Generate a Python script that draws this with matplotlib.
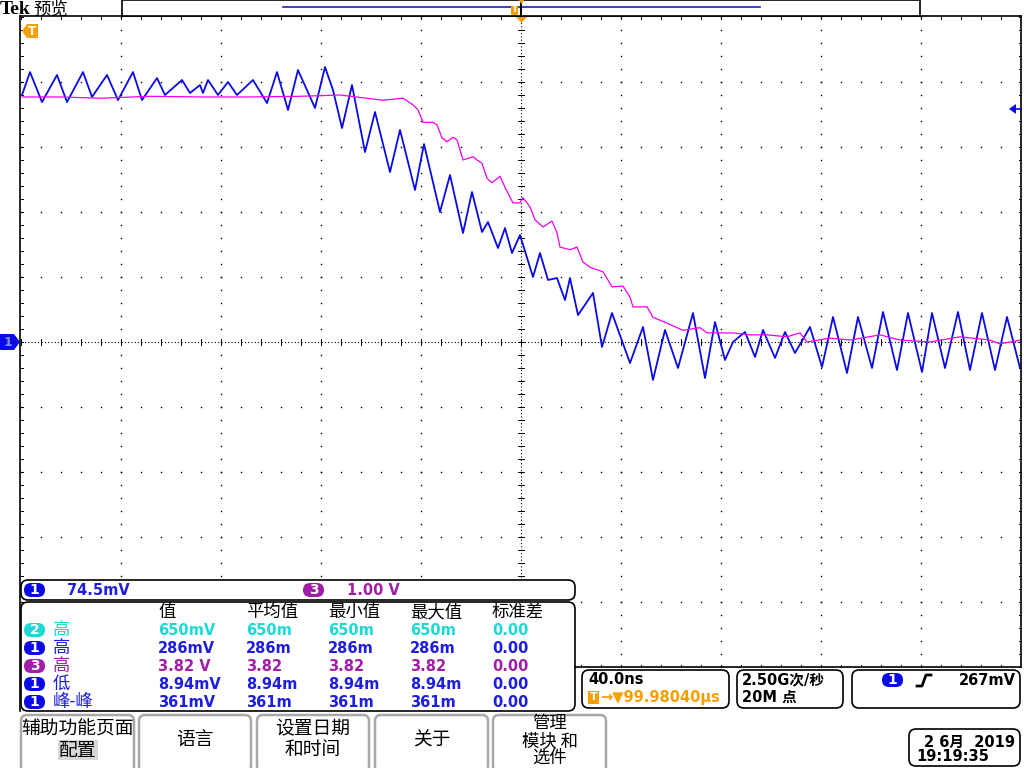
import numpy as np
import matplotlib
matplotlib.use('Agg')
import matplotlib.pyplot as plt
from matplotlib.patches import FancyBboxPatch, Rectangle, Polygon

plt.rcParams['font.family'] = ['DejaVu Sans', 'Noto Sans CJK SC']

# ---------------- data ----------------
time_per_div_ns = 40.0
ch1_mv_per_div = 74.5
ch3_v_per_div = 1.0

ch1_t = [-199.6, -196.4, -191.6, -185.6, -181.6, -175.2, -171.6, -165.6, -161.2, -155.2,
         -151.6, -145.6, -142.4, -135.6, -132.4, -128.4, -127.2, -125.2, -121.2, -117.2,
         -113.6, -107.2, -101.6, -97.6, -93.2, -89.2, -82.4, -78.4, -75.2, -71.6,
         -67.6, -62.4, -58.4, -52.4, -48.4, -42.4, -38.8, -32.4, -28.4, -23.2,
         -19.6, -15.6, -13.2, -9.2, -6.4, -3.6, -0.4, 4.8, 7.6, 10.8,
         14.4, 17.6, 19.6, 22.8, 28.8, 32.4, 36.4, 43.6, 48.8, 52.8,
         57.6, 62.8, 68.8, 73.6, 77.6, 81.6, 84.8, 89.6, 93.6, 96.8,
         101.6, 105.6, 109.6, 115.6, 120.4, 124.8, 130.4, 134.8, 140.4, 144.8,
         150.4, 154.8, 160.4, 164.4, 169.6, 174.8, 179.6, 184.4, 189.6, 194.4, 199.6]
ch1_mv = [283.1, 309.4, 275.0, 306.0, 275.0, 309.4, 280.8, 306.0, 277.3, 309.4,
          277.3, 302.5, 283.1, 300.3, 285.4, 294.5, 285.4, 300.3, 283.1, 298.0,
          283.1, 300.3, 273.9, 309.4, 265.9, 311.7, 268.2, 315.2, 288.8, 245.2,
          294.5, 217.7, 263.6, 194.8, 243.0, 174.2, 226.9, 149.0, 191.4, 124.9,
          171.9, 126.1, 137.5, 107.7, 130.6, 102.0, 122.6, 74.5, 102.0, 71.1,
          73.3, 48.1, 73.3, 30.9, 56.2, -5.7, 33.2, -24.1, 17.2, -43.5,
          13.8, -29.8, 33.2, -41.3, 22.9, -20.6, 0.0, 11.5, -17.2, 13.8,
          -18.3, 11.5, -12.6, 17.2, -28.7, 28.7, -35.5, 28.7, -29.8, 34.4,
          -32.1, 33.2, -34.4, 33.2, -29.8, 34.4, -32.1, 33.2, -32.1, 28.7, -29.8]

ch3_t = [-199.6, -184.4, -168.4, -148.4, -128.4, -108.4, -88.4, -72.4, -55.2, -47.2,
         -43.2, -41.2, -39.2, -35.2, -33.6, -31.6, -29.6, -27.2, -25.6, -23.2,
         -19.2, -17.6, -15.6, -13.6, -11.6, -8.4, -6.4, -3.2, -0.4, 0.8,
         3.6, 5.6, 8.8, 12.4, 14.4, 15.6, 19.6, 22.4, 24.8, 27.6,
         32.8, 36.4, 40.8, 43.6, 44.8, 50.4, 52.8, 58.4, 64.8, 71.6,
         74.4, 84.8, 91.6, 98.4, 106.4, 111.6, 114.4, 123.6, 131.6, 143.6,
         151.6, 163.6, 175.6, 187.6, 191.6, 199.6]
ch3_v = [3.77, 3.77, 3.75, 3.78, 3.77, 3.77, 3.78, 3.80, 3.72, 3.75,
         3.65, 3.57, 3.38, 3.38, 3.34, 3.14, 3.08, 3.15, 3.11, 2.80,
         2.85, 2.80, 2.75, 2.52, 2.45, 2.55, 2.38, 2.14, 2.14, 2.22,
         2.08, 1.88, 1.77, 1.86, 1.68, 1.46, 1.42, 1.46, 1.23, 1.15,
         1.08, 0.85, 0.86, 0.69, 0.54, 0.54, 0.38, 0.29, 0.18, 0.22,
         0.14, 0.14, 0.11, 0.11, 0.08, 0.14, 0.00, 0.06, 0.03, 0.11,
         0.03, 0.00, 0.08, 0.03, -0.03, 0.03]

meas_headers = ['值', '平均值', '最小值', '最大值', '标准差']
meas_channels = ['2', '1', '3', '1', '1']
meas_names = ['高', '高', '高', '低', '峰-峰']
meas_values = [['650mV', '650m', '650m', '650m', '0.00'],
               ['286mV', '286m', '286m', '286m', '0.00'],
               ['3.82 V', '3.82', '3.82', '3.82', '0.00'],
               ['8.94mV', '8.94m', '8.94m', '8.94m', '0.00'],
               ['361mV', '361m', '361m', '361m', '0.00']]

buttons = ['辅助功能页面\n配置', '语言', '设置日期\n和时间', '关于', '管理\n模块 和\n选件']

# ---------------- colours ----------------
BLUE = '#0A0AE6'
BLUE_TXT = '#1E1EE0'
CYAN = '#1ED8D8'
PURPLE = '#A01EA8'
MAGENTA = '#F000F0'
ORANGE = '#F5A000'
CJK = ['Noto Sans CJK SC', 'DejaVu Sans']
MIX = ['DejaVu Sans', 'Noto Sans CJK SC']

fig = plt.figure(figsize=(10.24, 7.68), dpi=100)
fig.patch.set_facecolor('white')

# ---------------- graticule axes ----------------
L, T, R, B = 21, 17, 1021, 667
ax = fig.add_axes([L / 1024, (768 - B) / 768, (R - L) / 1024, (B - T) / 768])
ax.set_xlim(-5 * time_per_div_ns, 5 * time_per_div_ns)
ax.set_ylim(-5 * ch1_mv_per_div, 5 * ch1_mv_per_div)
ax.axis('off')
px_x = 10 * time_per_div_ns / (R - L)
px_y = 10 * ch1_mv_per_div / (B - T)

minor_x = np.arange(-200, 200.01, time_per_div_ns / 5)
minor_y = np.arange(-5, 5.001, 0.2) * ch1_mv_per_div
dot_kw = dict(ls='none', marker='s', ms=1.0, mew=0, color='black')
for j in range(-4, 5):
    if j == 0:
        continue
    ax.plot(minor_x, np.full_like(minor_x, j * ch1_mv_per_div), **dot_kw)
for i in range(-4, 5):
    if i == 0:
        continue
    ax.plot(np.full_like(minor_y, i * time_per_div_ns), minor_y, **dot_kw)
# centre lines
ax.plot([-200, 200], [0, 0], color='black', lw=0.8, dashes=(1, 2))
ax.plot([0, 0], [-372.5, 372.5], color='black', lw=0.8, dashes=(1, 2))
for xv in minor_x:
    ax.plot([xv, xv], [-3 * px_y, 3 * px_y], color='black', lw=0.7)
for yv in minor_y:
    ax.plot([-3 * px_x, 3 * px_x], [yv, yv], color='black', lw=0.7)
# border minor ticks
for xv in minor_x:
    ax.plot([xv, xv], [372.5, 372.5 - 2 * px_y], color='black', lw=0.7)
    ax.plot([xv, xv], [-372.5, -372.5 + 2 * px_y], color='black', lw=0.7)
for yv in minor_y:
    ax.plot([-200, -200 + 2 * px_x], [yv, yv], color='black', lw=0.7)
    ax.plot([200, 200 - 2 * px_x], [yv, yv], color='black', lw=0.7)

ax.plot(ch1_t, ch1_mv, color=BLUE, lw=1.3, zorder=3)
ax3 = ax.twinx()
ax3.set_ylim(-5 * ch3_v_per_div, 5 * ch3_v_per_div)
ax3.axis('off')
ax3.plot(ch3_t, ch3_v, color=MAGENTA, lw=0.9, zorder=4)

# ---------------- overlay (pixel coordinates) ----------------
bg = fig.add_axes([0, 0, 1, 1])
bg.set_xlim(0, 1024)
bg.set_ylim(768, 0)
bg.axis('off')
bg.set_zorder(10)

def rbox(x0, y0, x1, y1, ec='black', lw=1.2, r=6, fc='white', z=1):
    p = FancyBboxPatch((x0, y0), x1 - x0, y1 - y0,
                       boxstyle=f'round,pad=0,rounding_size={r}',
                       ec=ec, fc=fc, lw=lw, zorder=z)
    bg.add_patch(p)

def badge(x, y, num, color, tc='white'):
    p = FancyBboxPatch((x, y - 7), 21, 14, boxstyle='round,pad=0,rounding_size=7',
                       ec='none', fc=color, zorder=3)
    bg.add_patch(p)
    bg.text(x + 10.5, y + 0.5, num, color=tc, fontsize=10, fontweight='bold',
            ha='center', va='center', zorder=4)

# graticule border
bg.plot([20, 1021], [16, 16], color='black', lw=1.2)
bg.plot([20, 20], [16, 711], color='black', lw=1.2)
bg.plot([1021, 1021], [16, 667], color='black', lw=1.2)
bg.plot([575, 1021], [667, 667], color='black', lw=1.2)

# header
bg.text(0, 9.5, 'Tek', fontsize=14, fontweight='bold', family='Liberation Serif',
        ha='left', va='center')
bg.text(33, 9.5, '预览', fontsize=12.5, family=CJK, ha='left', va='center')
bg.add_patch(Rectangle((122, 0), 798, 16, fc='white', ec='black', lw=1.2, zorder=2))
bg.plot([283, 760], [7, 7], color='#1E1EC8', lw=1.2, zorder=3)
bg.plot([521, 521], [0, 16], color='black', lw=1.5, zorder=4)
bg.add_patch(FancyBboxPatch((511, 5), 7, 10, boxstyle='round,pad=0,rounding_size=1.5',
                            fc=ORANGE, ec='none', zorder=5))
bg.text(514.5, 10, 'T', color='white', fontsize=6, fontweight='bold', ha='center',
        va='center', zorder=6)
bg.add_patch(Polygon([[516, 17], [527, 17], [521.5, 23]], closed=True, fc=ORANGE,
                     ec='none', zorder=5))
bg.add_patch(Polygon([[519, 0], [524, 0], [521.5, 4]], closed=True, fc=ORANGE,
                     ec='none', zorder=5))

# left trigger-position marker
bg.add_patch(Polygon([[22, 31], [27, 24], [38, 24], [38, 38], [27, 38]], closed=True,
                     fc=ORANGE, ec='none', zorder=5))
bg.text(31.5, 31.5, 'T', color='white', fontsize=8.5, fontweight='bold', ha='center',
        va='center', zorder=6)

# channel 1 ground marker
bg.add_patch(Polygon([[0, 334], [14, 334], [20, 342], [14, 350], [0, 350]], closed=True,
                     fc=BLUE, ec='none', zorder=5))
bg.text(8, 342.5, '1', color='#8090D0', fontsize=9, fontweight='bold', ha='center',
        va='center', zorder=6)

# trigger level arrow
bg.add_patch(Polygon([[1009, 109], [1016, 104], [1016, 114]], closed=True, fc=BLUE,
                     ec='none', zorder=5))
bg.plot([1014, 1021], [109, 109], color=BLUE, lw=1.2, zorder=5)

# readout box
rbox(21, 580, 575, 600, r=7)
badge(24, 590, '1', BLUE)
bg.text(67, 590.5, '74.5mV', color=BLUE_TXT, fontsize=10.5, fontweight='bold',
        ha='left', va='center', zorder=4)
badge(303, 590, '3', PURPLE)
bg.text(347, 590.5, '1.00 V', color=PURPLE, fontsize=10.5, fontweight='bold',
        ha='left', va='center', zorder=4)

# measurement table
rbox(21, 602, 575, 711, r=7)
col_x = [158, 246, 328, 410, 492]
for cx, h in zip(col_x, meas_headers):
    bg.text(cx, 612, h, fontsize=12.5, family=CJK, ha='left', va='center', zorder=4)
ch_col = {'1': BLUE, '2': CYAN, '3': PURPLE}
txt_col = {'1': BLUE_TXT, '2': CYAN, '3': PURPLE}
row_y = [630, 648, 666, 684, 702]
for ry, chn, name, vals in zip(row_y, meas_channels, meas_names, meas_values):
    badge(24, ry, chn, ch_col[chn])
    bg.text(53, ry, name, color=txt_col[chn], fontsize=12.5, family=CJK, ha='left',
            va='center', zorder=4)
    for cx, v in zip(col_x, vals):
        bg.text(cx, ry + 0.5, v, color=txt_col[chn], fontsize=10.5, fontweight='bold',
                ha='left', va='center', zorder=4)

# horizontal / acquisition / trigger boxes
rbox(582, 670, 729, 708, r=7)
bg.text(588, 680, '40.0ns', fontsize=10.5, fontweight='bold', ha='left', va='center',
        zorder=4)
bg.add_patch(Rectangle((588, 691), 11, 13, fc=ORANGE, ec='none', zorder=4))
bg.text(593.5, 697.5, 'T', color='white', fontsize=8, fontweight='bold', ha='center',
        va='center', zorder=5)
bg.text(600, 697.5, '→▼99.98040µs', color=ORANGE, fontsize=10.5, fontweight='bold',
        ha='left', va='center', zorder=4)

rbox(737, 670, 843, 708, r=7)
bg.text(742, 680, '2.50G次/秒', fontsize=10.5, fontweight='bold', family=MIX,
        ha='left', va='center', zorder=4)
bg.text(742, 697.5, '20M 点', fontsize=10.5, fontweight='bold', family=MIX,
        ha='left', va='center', zorder=4)

rbox(852, 670, 1020, 708, r=7)
badge(882, 680, '1', BLUE)
bg.plot([917, 922, 926, 931], [686, 686, 675, 675], color='black', lw=2.0, zorder=4)
bg.text(1016, 680.5, '267mV', fontsize=10.5, fontweight='bold', ha='right', va='center',
        zorder=4)

# menu buttons
btn_x = [(21, 134), (139, 251), (257, 369), (375, 488), (493, 606)]
for (x0, x1), lab in zip(btn_x, buttons):
    rbox(x0, 715, x1, 772, ec='#A8A8A8', lw=1.8, r=6)
    lines = lab.split('\n')
    n = len(lines)
    cx = (x0 + x1) / 2
    if n == 1:
        ys = [740]
        fs = 13.5
    elif n == 2:
        ys = [729, 750]
        fs = 13.5
    else:
        ys = [723, 741, 757.5]
        fs = 12.5
    for yy, ln in zip(ys, lines):
        if ln == '配置':
            bg.add_patch(Rectangle((cx - 20, yy - 10), 40, 20, fc='#D8D8D8', ec='none',
                                   zorder=2))
        bg.text(cx, yy, ln, fontsize=fs, family=CJK, ha='center', va='center', zorder=4)

# date box
rbox(909, 729, 1020, 766, r=7)
bg.text(924, 742, '2 6月  2019', fontsize=10.5, fontweight='bold', family=MIX,
        ha='left', va='center', zorder=4)
bg.text(916, 756.5, '19:19:35', fontsize=10.5, fontweight='bold', ha='left', va='center',
        zorder=4)

fig.savefig('out.png', dpi=100, facecolor='white')
